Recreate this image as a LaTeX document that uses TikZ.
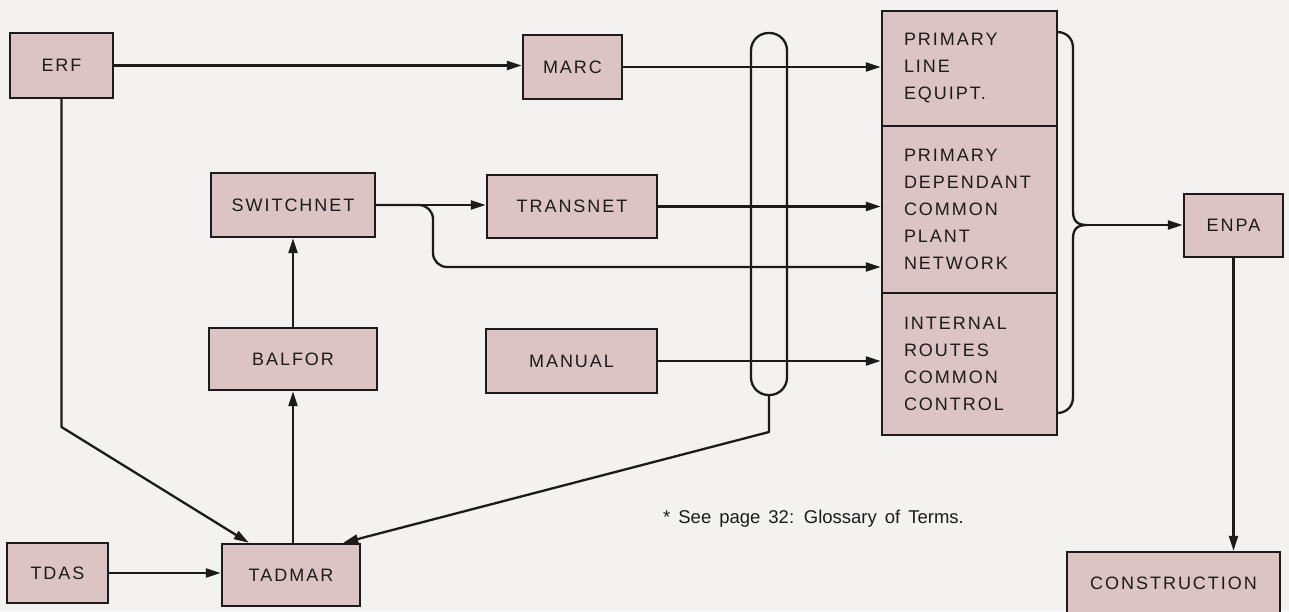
\documentclass[tikz,border=0pt]{standalone}
\usepackage{fontspec}
\setmainfont{Liberation Sans}
\newfontfamily\boxfont[LetterSpace=11]{Liberation Sans}
\usetikzlibrary{arrows.meta,calc}
\definecolor{bgc}{RGB}{243,242,240}
\definecolor{boxc}{RGB}{221,196,196}
\definecolor{inkc}{RGB}{28,26,26}
\begin{document}
\begin{tikzpicture}[x=1pt,y=-1pt,
  box/.style={draw=inkc, fill=boxc, line width=2.4pt, inner sep=0pt,
    font=\boxfont\fontsize{18}{27}\selectfont, text=inkc},
  stack/.style={box, align=left, text width=131pt, inner xsep=22pt, minimum width=175pt},
  conn/.style={draw=inkc, line width=2.3pt, line join=round},
  arr/.style={conn, -{Triangle[length=15pt,width=9pt]}}]
\useasboundingbox (0,0) rectangle (1289,611);
\fill[bgc] (0,0) rectangle (1289,611);

% left-hand boxes
\node[box, minimum width=103pt, minimum height=65pt] (erf) at (61.5,65.5) {ERF};
\node[box, minimum width=99pt, minimum height=64pt] (marc) at (572.5,67) {MARC};
\node[box, minimum width=164pt, minimum height=64pt] (switchnet) at (293,205) {SWITCHNET};
\node[box, minimum width=170pt, minimum height=63pt] (transnet) at (572,206.5) {TRANSNET};
\node[box, minimum width=168pt, minimum height=62pt] (balfor) at (293,359) {BALFOR};
\node[box, minimum width=171pt, minimum height=64pt] (manual) at (571.5,361) {MANUAL};
\node[box, minimum width=101pt, minimum height=60pt] (tdas) at (57.5,573) {TDAS};
\node[box, minimum width=138pt, minimum height=62pt] (tadmar) at (291,575) {TADMAR};

% stacked plant boxes
\node[stack, minimum height=115pt] (p1) at (969.5,68.5) {PRIMARY\\LINE\\EQUIPT.};
\node[stack, minimum height=167pt] (p2) at (969.5,209.5) {PRIMARY\\DEPENDANT\\COMMON\\PLANT\\NETWORK};
\node[stack, minimum height=142pt] (p3) at (969.5,364) {INTERNAL\\ROUTES\\COMMON\\CONTROL};

\node[box, minimum width=99pt, minimum height=63pt] (enpa) at (1233.5,225.5) {ENPA};
\node[box, minimum width=213pt, minimum height=62pt] (construction) at (1173.5,583) {CONSTRUCTION};

% tube (bus)
\draw[conn, rounded corners=17.5pt] (751,33) rectangle (787,395);
\coordinate (tubebot) at (769,395);

% connectors
\draw[arr] (erf.east) -- (erf.east -| marc.west);
\draw[arr] (marc.east) -- (marc.east -| p1.west);
\draw[arr] (switchnet.east) -- (switchnet.east -| transnet.west);
\coordinate (swbend) at (433,267);
\draw[arr, rounded corners=14pt] (switchnet.east) -| (swbend) -- (swbend -| p2.west);
\draw[arr] (transnet.east) -- (transnet.east -| p2.west);
\draw[arr] (manual.east) -- (manual.east -| p3.west);
\draw[arr] (balfor.north) -- (switchnet.south);
\draw[arr] (balfor.south |- tadmar.north) -- (balfor.south);
\draw[arr] (tdas.east) -- (tdas.east -| tadmar.west);
\coordinate (erfbend) at (61.5,427);
\draw[arr] (erf.south) -- (erfbend) -- ($(tadmar.north west)+(28,0)$);
\draw[arr] (tubebot) -- ++(0,37) -- ($(tadmar.north east)+(-18,0)$);
\draw[arr] (enpa.south) -- (enpa.south |- construction.north);

% brace into ENPA
\coordinate (bt) at (1057,32);
\coordinate (bb) at (1057,413);
\coordinate (bm) at (1087,225);
\draw[conn] (bt) .. controls (1066,32) and (1073,38) .. (1073,48) -- (1073,211)
  .. controls (1073,221) and (1077,225) .. (bm)
  .. controls (1077,225) and (1073,229) .. (1073,239) -- (1073,397)
  .. controls (1073,407) and (1066,413) .. (bb);
\draw[arr] (bm) -- (bm -| enpa.west);

% footnote
\node[anchor=base west, inner sep=0pt, text=inkc, font=\fontsize{18.5}{22}\selectfont] (note) at (663,523)
  {\spaceskip=8pt\relax * See page 32: Glossary of Terms.};
\end{tikzpicture}
\end{document}
